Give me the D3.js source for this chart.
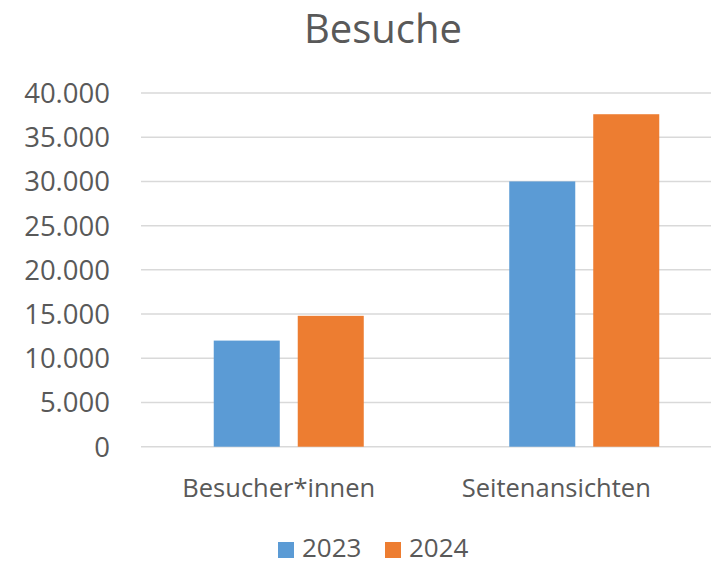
<!DOCTYPE html>
<html>
<head>
<meta charset="utf-8">
<script src="https://cdn.jsdelivr.net/npm/d3@7"></script>
<style>
  body { margin: 0; background: #fff; }
  text { font-family: "Open Sans", sans-serif; fill: #595959; }
</style>
</head>
<body>
<svg id="chart" width="711" height="561"></svg>
<script>
// --------DATA--------------
var categories = ["Besucher*innen", "Seitenansichten"];
var years = ["2023", "2024"];
var values2023 = [12000, 30000];
var values2024 = [14800, 37600];
var yTicks = [0, 5000, 10000, 15000, 20000, 25000, 30000, 35000, 40000];
var chartTitle = "Besuche";

var colors = { "2023": "#5B9BD5", "2024": "#ED7D31" };

var rows = categories.map(function(c, i) {
  return { cat: c, vals: [ { year: "2023", v: values2023[i] }, { year: "2024", v: values2024[i] } ] };
});

var svg = d3.select("#chart");

// plot area (runs past the right edge, like the reference)
var plotLeft = 141, plotRight = 732, plotTop = 93, plotBottom = 446.7;

var x = d3.scaleBand().domain(categories).range([plotLeft, plotRight]).paddingInner(0).paddingOuter(0);
var xInner = d3.scaleBand().domain(years).range([0, x.bandwidth()]).paddingInner(0.214).paddingOuter(0.866);
var y = d3.scaleLinear().domain([0, 40000]).range([plotBottom, plotTop]);

var fmt = function(d) { return d3.format(",")(d).replace(/,/g, "."); };

// gridlines
svg.append("g")
  .selectAll("line")
  .data(yTicks)
  .enter()
  .append("line")
  .attr("x1", plotLeft)
  .attr("x2", 711)
  .attr("y1", function(d) { return y(d); })
  .attr("y2", function(d) { return y(d); })
  .attr("stroke", "#d9d9d9")
  .attr("stroke-width", 1.5);

// y axis labels
svg.append("g")
  .selectAll("text")
  .data(yTicks)
  .enter()
  .append("text")
  .attr("x", 110)
  .attr("y", function(d) { return y(d); })
  .attr("dy", "0.36em")
  .attr("text-anchor", "end")
  .style("font-size", "27.5px")
  .text(fmt);

// bars
var groups = svg.append("g")
  .selectAll("g")
  .data(rows)
  .enter()
  .append("g")
  .attr("transform", function(d) { return "translate(" + x(d.cat) + ",0)"; });

groups.selectAll("rect")
  .data(function(d) { return d.vals; })
  .enter()
  .append("rect")
  .attr("x", function(d) { return xInner(d.year); })
  .attr("width", xInner.bandwidth())
  .attr("y", function(d) { return y(d.v); })
  .attr("height", function(d) { return y(0) - y(d.v); })
  .attr("fill", function(d) { return colors[d.year]; });

// category labels
svg.append("g")
  .selectAll("text")
  .data(categories)
  .enter()
  .append("text")
  .attr("x", function(d, i) { return x(d) + x.bandwidth() / 2 - 10 - i * 18; })
  .attr("y", 497)
  .attr("text-anchor", "middle")
  .style("font-size", "25.5px")
  .text(function(d) { return d; });

// title
svg.append("text")
  .attr("x", 383)
  .attr("y", 43)
  .attr("text-anchor", "middle")
  .style("font-size", "40px")
  .text(chartTitle);

// legend
var legend = svg.append("g")
  .selectAll("g")
  .data(years)
  .enter()
  .append("g")
  .attr("transform", function(d, i) { return "translate(" + (278 + i * 107) + ",0)"; });

legend.append("rect")
  .attr("y", 542)
  .attr("width", 16)
  .attr("height", 16)
  .attr("fill", function(d) { return colors[d]; });

legend.append("text")
  .attr("x", 24)
  .attr("y", 557)
  .style("font-size", "26px")
  .text(function(d) { return d; });
</script>
</body>
</html>
